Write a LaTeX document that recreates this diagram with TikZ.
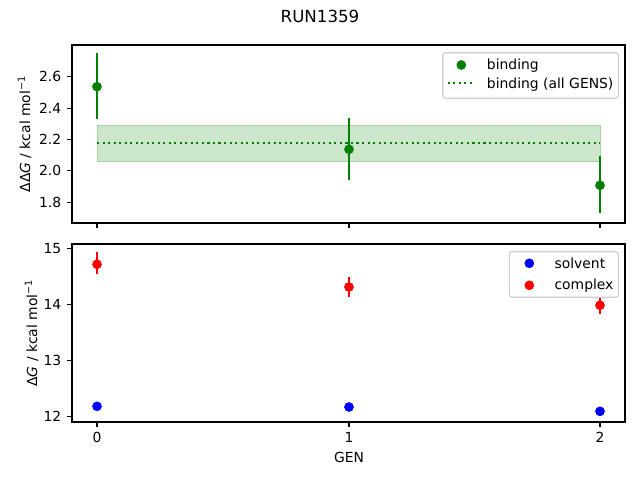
\documentclass[tikz,border=0pt]{standalone}
\usepackage{fontspec}
\setmainfont{DejaVu Sans}
\definecolor{mplgreen}{RGB}{0,128,0}
\definecolor{mplblue}{RGB}{0,0,255}
\definecolor{mplred}{RGB}{255,0,0}
\definecolor{bandfill}{RGB}{204,230,204}
\definecolor{bandedge}{RGB}{168,212,168}
\definecolor{legedge}{RGB}{204,204,204}
\begin{document}
\begin{tikzpicture}[x=0.72pt,y=-0.72pt,
  frame/.style={draw=black,line width=0.8pt},
  tickmark/.style={draw=black,line width=0.8pt},
  ticklab/.style={inner sep=0pt,font=\fontsize{10}{12}\selectfont},
  errbar/.style={line width=1.5pt},
  dot/.style={circle,inner sep=0pt,minimum size=7pt},
  legbox/.style={draw=legedge,fill=white,line width=0.8pt,rounded corners=2pt},
  legtext/.style={inner sep=0pt,anchor=base west,font=\fontsize{10}{12}\selectfont}]
\useasboundingbox (0,0) rectangle (640,480);
% title
\node[inner sep=0pt,anchor=base,font=\fontsize{12}{14}\selectfont] (title) at (320,22) {RUN1359};

% ===== top axes =====
\coordinate (tA) at (72,45);
\coordinate (tB) at (625,223);
% band
\draw[fill=bandfill,draw=bandedge,line width=0.6pt] (97,125.3) rectangle (600,161.7);
\draw[mplgreen,line width=1.5pt,dash pattern=on 1.5pt off 2.475pt] (97,142.7) -- (600,142.7);
% error bars and points
\draw[mplgreen,errbar] (97,53.3) -- (97,118.7);
\draw[mplgreen,errbar] (349,118) -- (349,179.7);
\draw[mplgreen,errbar] (600,156) -- (600,213.3);
\node[dot,fill=mplgreen] (b0) at (97,86.7) {};
\node[dot,fill=mplgreen] (b1) at (349,149.3) {};
\node[dot,fill=mplgreen] (b2) at (600,185.3) {};
\draw[frame] (tA) rectangle (tB);
% y ticks top
\foreach \v/\y in {1.8/202.3,2.0/170.9,2.2/139.5,2.4/108.1,2.6/76.7}{
  \draw[tickmark] (72,\y) -- (67.1,\y);
  \node[ticklab,anchor=base east] at (61.5,\y+5.05) {\v};
}
% x ticks top (no labels)
\foreach \x in {97,349,600}{
  \draw[tickmark] (\x,223) -- (\x,227.9);
}
\node[rotate=90,anchor=base,inner sep=0pt,font=\fontsize{10}{12}\selectfont] (ylab1) at (30,134) {ΔΔ{\itshape G} / kcal mol\textsuperscript{−1}};
% legend top
\draw[legbox] (442.7,52.7) rectangle (618.3,98.3);
\node[dot,fill=mplgreen] (lb1) at (461.3,65) {};
\draw[mplgreen,line width=1.5pt,dash pattern=on 1.5pt off 2.475pt] (447.7,83.3) -- (475,83.3);
\node[legtext] (lt1) at (486.7,69.5) {binding};
\node[legtext] (lt2) at (486.7,88.7) {binding (all GENS)};

% ===== bottom axes =====
\coordinate (bA) at (72,244);
\coordinate (bB) at (625,422);
\draw[mplred,errbar] (97,252.3) -- (97,274.3);
\draw[mplred,errbar] (349,277.3) -- (349,297.3);
\draw[mplred,errbar] (600,295.7) -- (600,314.3);
\node[dot,fill=mplred] (c0) at (97,264.3) {};
\node[dot,fill=mplred] (c1) at (349,287) {};
\node[dot,fill=mplred] (c2) at (600,305.3) {};
\node[dot,fill=mplblue] (s0) at (97,406.3) {};
\node[dot,fill=mplblue] (s1) at (349,407) {};
\node[dot,fill=mplblue] (s2) at (600,411.3) {};
\draw[frame] (bA) rectangle (bB);
\foreach \v/\y in {12/416.7,13/360.6,14/304.4,15/248.3}{
  \draw[tickmark] (72,\y) -- (67.1,\y);
  \node[ticklab,anchor=base east] at (61.5,\y+5.05) {\v};
}
\foreach \v/\x in {0/97,1/349,2/600}{
  \draw[tickmark] (\x,422) -- (\x,426.9);
  \node[ticklab,anchor=base] at (\x,442) {\v};
}
\node[ticklab,anchor=base] (xlab) at (349,462.7) {GEN};
\node[rotate=90,anchor=base,inner sep=0pt,font=\fontsize{10}{12}\selectfont] (ylab2) at (37,333) {Δ{\itshape G} / kcal mol\textsuperscript{−1}};
% legend bottom
\draw[legbox] (509.3,251.7) rectangle (618.3,297.3);
\node[dot,fill=mplblue] (ls1) at (529.3,263.3) {};
\node[dot,fill=mplred] (ls2) at (529.3,285.3) {};
\node[legtext] (lt3) at (554.3,268.5) {solvent};
\node[legtext] (lt4) at (554.3,289.5) {complex};
\end{tikzpicture}
\end{document}
